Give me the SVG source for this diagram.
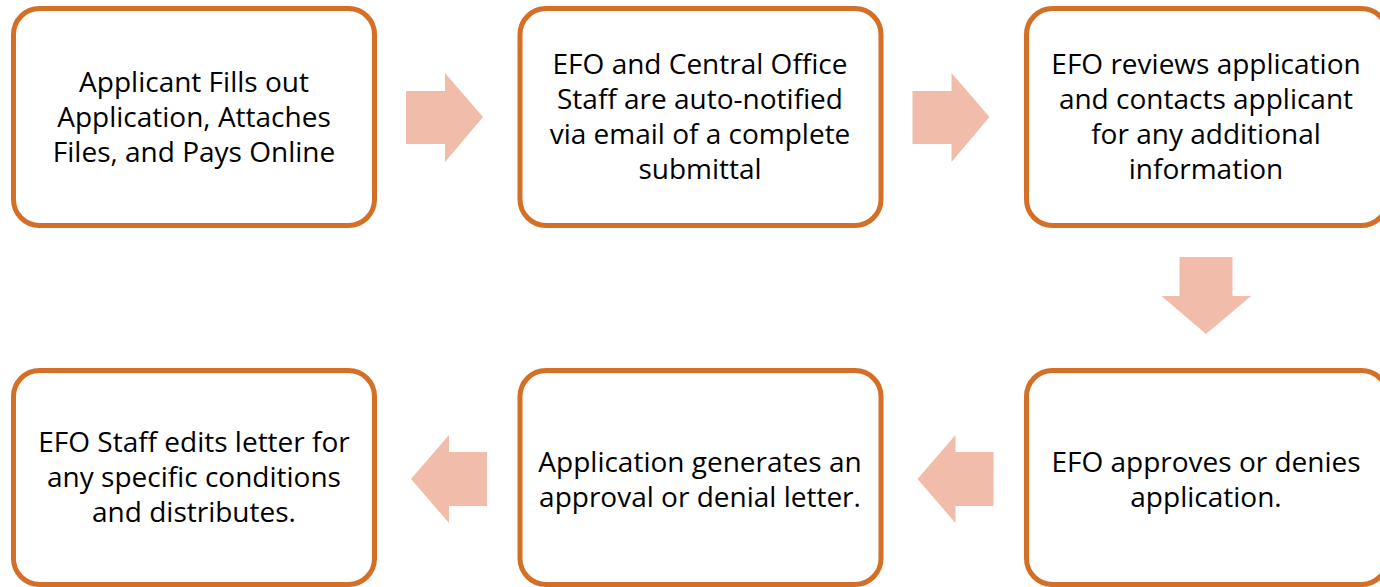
<svg xmlns="http://www.w3.org/2000/svg" width="1380" height="587" viewBox="0 0 1380 587">
<style>
.box{fill:#fff;stroke:#D46F28;stroke-width:5}
.arr{fill:#F2BCAA}
text{font-family:"Open Sans","Liberation Sans",sans-serif;font-size:28px;fill:#000;text-anchor:middle}
</style>
<rect width="1380" height="587" fill="#fff"/>
<g id="n1"><rect class="box" x="13.5" y="8.5" width="361" height="217" rx="26"/>
<text x="194" y="92">Applicant Fills out</text><text x="194" y="127">Application, Attaches</text><text x="194" y="162">Files, and Pays Online</text></g>
<g id="n2"><rect class="box" x="520" y="8.5" width="361" height="217" rx="26"/>
<text x="700" y="74">EFO and Central Office</text><text x="700" y="109">Staff are auto-notified</text><text x="700" y="144">via email of a complete</text><text x="700" y="179">submittal</text></g>
<g id="n3"><rect class="box" x="1026.5" y="8.5" width="361" height="217" rx="26"/>
<text x="1206" y="74">EFO reviews application</text><text x="1206" y="109">and contacts applicant</text><text x="1206" y="144">for any additional</text><text x="1206" y="179">information</text></g>
<g id="n4"><rect class="box" x="1026.5" y="370.5" width="361" height="214" rx="26"/>
<text x="1206" y="472">EFO approves or denies</text><text x="1206" y="507">application.</text></g>
<g id="n5"><rect class="box" x="520" y="370.5" width="361" height="214" rx="26"/>
<text x="700" y="472">Application generates an</text><text x="700" y="507">approval or denial letter.</text></g>
<g id="n6"><rect class="box" x="13.5" y="370.5" width="361" height="214" rx="26"/>
<text x="194" y="452">EFO Staff edits letter for</text><text x="194" y="487">any specific conditions</text><text x="194" y="522">and distributes.</text></g>
<g id="connectors">
<polygon class="arr" points="406,91 445,91 445,73 483,117 445,162 445,144 406,144"/>
<polygon class="arr" points="912.5,91 951.5,91 951.5,73 989.5,117 951.5,162 951.5,144 912.5,144"/>
<polygon class="arr" points="1179.5,257 1232.5,257 1232.5,296 1251,296 1206,334 1161.5,296 1179.5,296"/>
<polygon class="arr" points="993.5,452 993.5,506 955.5,506 955.5,523 917.5,479 955.5,435 955.5,452"/>
<polygon class="arr" points="487,452 487,506 449,506 449,523 411,479 449,435 449,452"/>
</g>
</svg>
